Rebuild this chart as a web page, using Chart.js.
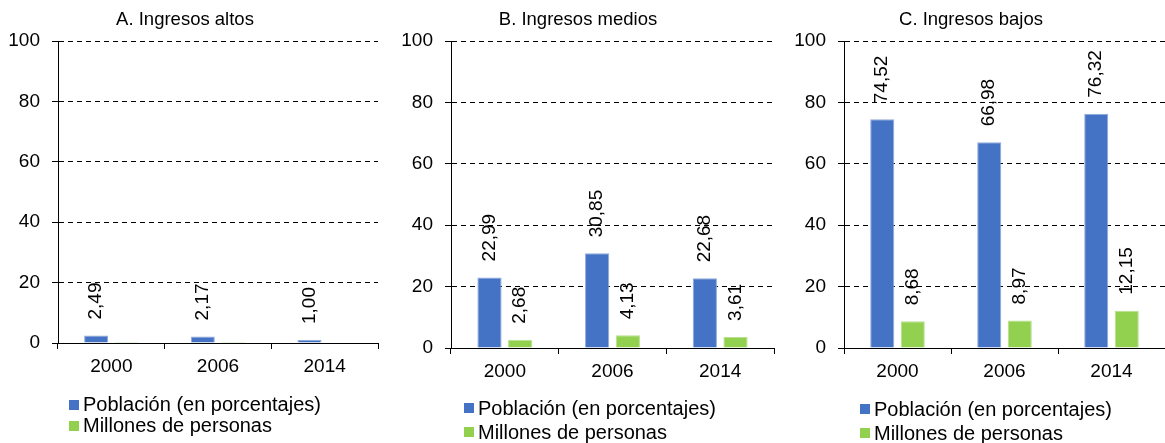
<!DOCTYPE html>
<html>
<head>
<meta charset="utf-8">
<script src="https://cdn.jsdelivr.net/npm/chart.js@4.4.0/dist/chart.umd.min.js"></script>
<style>
  body { margin: 0; background: #fff; font-family: "Liberation Sans", Arial, sans-serif; }
  #wrap { position: relative; width: 1165px; height: 443px; overflow: hidden; }
  #wrap canvas { position: absolute; top: 0; }
  .title { position: absolute; top: 8px; font-size: 18.5px; line-height: 22px; color: #000; transform: translateX(-50%); white-space: nowrap; }
  .legend { position: absolute; font-size: 20px; color: #000; white-space: nowrap; }
  .legend div { position: relative; padding-left: 14px; }
  .legend span { position: absolute; left: 0; top: 50%; width: 10px; height: 10px; margin-top: -5px; }
</style>
</head>
<body>
<div id="wrap">
  <canvas id="chartA" width="390" height="443" style="left:0px"></canvas>
  <canvas id="chartB" width="390" height="443" style="left:390px"></canvas>
  <canvas id="chartC" width="385" height="443" style="left:780px"></canvas>
</div>
<script>
// --- DATA ---
const years = ['2000', '2006', '2014'];
const seriesNames = ['Población (en porcentajes)', 'Millones de personas'];
const yTicks = [0, 20, 40, 60, 80, 100];

const poblacionAltos = [2.49, 2.17, 1.00];
const millonesAltos = [0.29, 0.29, 0.16];   // too small to read, no labels in source
const poblacionMedios = [22.99, 30.85, 22.68];
const millonesMedios = [2.68, 4.13, 3.61];
const poblacionBajos = [74.52, 66.98, 76.32];
const millonesBajos = [8.68, 8.97, 12.15];

const BLUE = '#4472C4';
const GREEN = '#92D050';
const FONT = '"Liberation Sans", Arial, sans-serif';

// rotated value labels above each bar
const valueLabels = {
    id: 'valueLabels',
    afterDatasetsDraw(chart) {
        const ctx = chart.ctx;
        ctx.save();
        ctx.font = '19px ' + FONT;
        ctx.fillStyle = '#000';
        ctx.textAlign = 'left';
        ctx.textBaseline = 'middle';
        chart.data.datasets.forEach((ds, i) => {
            if (ds.hideLabels) return;
            chart.getDatasetMeta(i).data.forEach((bar, j) => {
                const txt = ds.data[j].toFixed(2).replace('.', ',');
                ctx.save();
                ctx.translate(bar.x, bar.y - 16);
                ctx.rotate(-Math.PI / 2);
                ctx.fillText(txt, 0, 0);
                ctx.restore();
            });
        });
        ctx.restore();
    }
};

function makePanel(cfg) {
    new Chart(document.getElementById(cfg.id), {
        type: 'bar',
        data: {
            labels: years,
            datasets: [
                { label: seriesNames[0], data: cfg.pct, backgroundColor: BLUE, borderColor: '#8FAADC', borderWidth: 1,
                  categoryPercentage: 0.57, barPercentage: 0.79 },
                { label: seriesNames[1], data: cfg.mill, backgroundColor: GREEN, borderColor: '#B8E08E', borderWidth: 1,
                  hideLabels: cfg.hideGreen, categoryPercentage: 0.57, barPercentage: 0.79 }
            ]
        },
        options: {
            responsive: false,
            animation: false,
            layout: { padding: { left: 0, top: 41, right: cfg.padRight, bottom: cfg.padBottom } },
            plugins: { legend: { display: false }, tooltip: { enabled: false } },
            scales: {
                x: {
                    afterFit(scale) { scale.height = 40; },
                    grid: { offset: true, drawOnChartArea: false, drawTicks: true, tickLength: 6, tickColor: '#000' },
                    border: { color: '#000', width: 1 },
                    ticks: { color: '#000', padding: 6, font: { family: FONT, size: 19 } }
                },
                y: {
                    min: 0, max: 100,
                    afterFit(scale) { scale.width = cfg.yWidth; },
                    afterBuildTicks(scale) { scale.ticks = yTicks.map(v => ({ value: v })); },
                    grid: { color: '#000', lineWidth: 1, tickLength: 6, tickColor: '#000' },
                    border: { color: '#000', width: 1, dash: [5, 4] },
                    ticks: { color: '#000', padding: 12, font: { family: FONT, size: 19 } }
                }
            }
        },
        plugins: [valueLabels]
    });

    const wrap = document.getElementById('wrap');
    const t = document.createElement('div');
    t.className = 'title';
    t.style.left = cfg.titleX + 'px';
    t.textContent = cfg.title;
    wrap.appendChild(t);

    const lg = document.createElement('div');
    lg.className = 'legend';
    lg.style.left = cfg.legendX + 'px';
    lg.style.top = cfg.legendTop + 'px';
    lg.style.lineHeight = cfg.legendRow + 'px';
    [[BLUE, seriesNames[0]], [GREEN, seriesNames[1]]].forEach(([c, name]) => {
        const row = document.createElement('div');
        row.innerHTML = `<span style="background:${c}"></span>${name}`;
        lg.appendChild(row);
    });
    wrap.appendChild(lg);
}

makePanel({ id: 'chartA', title: 'A. Ingresos altos', titleX: 185, pct: poblacionAltos, mill: millonesAltos, hideGreen: true,
            yWidth: 58, padRight: 12, padBottom: 60, legendX: 69, legendTop: 394, legendRow: 21 });
makePanel({ id: 'chartB', title: 'B. Ingresos medios', titleX: 578, pct: poblacionMedios, mill: millonesMedios,
            yWidth: 61, padRight: 6, padBottom: 55, legendX: 464, legendTop: 396, legendRow: 24 });
makePanel({ id: 'chartC', title: 'C. Ingresos bajos', titleX: 971, pct: poblacionBajos, mill: millonesBajos,
            yWidth: 64, padRight: 0, padBottom: 55, legendX: 860, legendTop: 397, legendRow: 24 });
</script>
</body>
</html>
